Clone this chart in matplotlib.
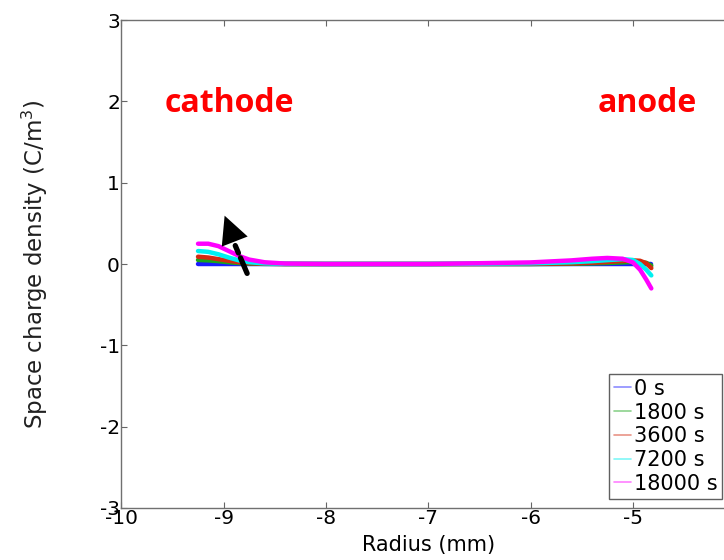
import matplotlib
matplotlib.use("Agg")
import matplotlib.pyplot as plt
import numpy as np

plt.rcParams["axes.unicode_minus"] = False

# Radial positions (mm) and space charge density (C/m^3) for each time step
radius = [-9.25, -9.15, -9.05, -8.95, -8.85, -8.75, -8.6, -8.4, -8.0, -7.0,
          -6.0, -5.6, -5.4, -5.25, -5.1, -5.0, -4.93, -4.87, -4.82]
rho_0s = [0.0, 0.0, 0.0, 0.0, 0.0, 0.0, 0.0, 0.0, 0.0, 0.0,
          0.0, 0.0, 0.0, 0.0, 0.0, 0.0, 0.0, 0.0, 0.0]
rho_1800s = [0.05, 0.045, 0.035, 0.022, 0.012, 0.006, 0.002, 0.0, 0.0, 0.0,
             0.0, 0.003, 0.008, 0.013, 0.02, 0.025, 0.025, 0.015, -0.02]
rho_3600s = [0.09, 0.08, 0.06, 0.04, 0.022, 0.011, 0.004, 0.001, 0.0, 0.0,
             0.002, 0.008, 0.016, 0.025, 0.038, 0.045, 0.04, 0.01, -0.05]
rho_7200s = [0.16, 0.15, 0.12, 0.08, 0.045, 0.022, 0.008, 0.002, 0.0, 0.0,
             0.008, 0.022, 0.035, 0.048, 0.06, 0.05, 0.0, -0.07, -0.14]
rho_18000s = [0.25, 0.25, 0.22, 0.16, 0.1, 0.055, 0.022, 0.006, 0.0, 0.0,
              0.02, 0.045, 0.065, 0.075, 0.065, 0.02, -0.07, -0.19, -0.30]

labels = ["0 s", "1800 s", "3600 s", "7200 s", "18000 s"]
colors = ["#1a1aff", "#1aa61a", "#d42a10", "#00f0f0", "#ff00ff"]
series = [rho_0s, rho_1800s, rho_3600s, rho_7200s, rho_18000s]

fig = plt.figure(figsize=(7.24, 5.6), dpi=100)
ax = fig.add_axes([0.1675, 0.093, 0.848, 0.871])

for rho, lab, col in zip(series, labels, colors):
    ax.plot(radius, rho, color=col, lw=3.2, label=lab, solid_capstyle="round")

ax.set_xlim(-10, -4)
ax.set_ylim(-3, 3)
ax.set_xticks([-10, -9, -8, -7, -6, -5])
ax.set_yticks([-3, -2, -1, 0, 1, 2, 3])
ax.tick_params(direction="in", top=True, right=True, labelsize=14.5,
               length=4, width=0.8, color="#666666", pad=1)
for s in ax.spines.values():
    s.set_color("#707070")
    s.set_linewidth(1.0)

ax.set_xlabel("Radius (mm)", fontsize=15, labelpad=5)
ax.set_ylabel("Space charge density (C/m$^3$)", fontsize=16.5, labelpad=36,
              color="#202020")

# Electrode annotations
ax.text(-8.94, 1.98, "cathode", color="red", fontsize=23, fontweight="bold",
        family="Open Sans", ha="center", va="center")
ax.text(-4.86, 1.98, "anode", color="red", fontsize=23, fontweight="bold",
        family="Open Sans", ha="center", va="center")

# Dashed arrow showing growth of charge near the cathode
tip = (-8.99, 0.595)
tail = (-8.77, -0.115)
ax.annotate("", xy=(-8.886, 0.227), xytext=tail,
            arrowprops=dict(arrowstyle="-", lw=3.8, color="black",
                            linestyle=(0, (3.2, 1.0)),
                            shrinkA=0, shrinkB=0))
ax.annotate("", xy=tip, xytext=tail,
            arrowprops=dict(arrowstyle="-|>,head_length=1.0,head_width=0.5",
                            lw=0, color="black", mutation_scale=20,
                            shrinkA=0, shrinkB=0))

leg = ax.legend(loc="lower left", bbox_to_anchor=(0.8405, 0.109),
                bbox_transform=fig.transFigure, borderaxespad=0,
                fontsize=15, handlelength=0.85, handletextpad=0.1,
                labelspacing=0.18, borderpad=0.25, fancybox=False,
                framealpha=1, edgecolor="#606060")
for h in leg.get_lines():
    h.set_linewidth(1.2)
    h.set_alpha(0.5)

fig.savefig("out.png", dpi=100)
